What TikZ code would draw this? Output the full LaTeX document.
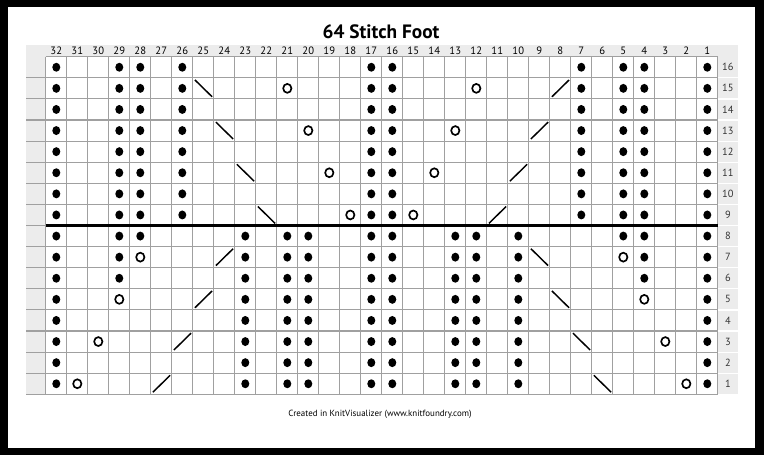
\documentclass[tikz,border=0pt]{standalone}
\usepackage{fontspec}
\setmainfont{PT Sans}
\definecolor{hdrgray}{HTML}{ECECEC}
\definecolor{gridgray}{HTML}{A0A0A0}
\tikzset{
  gridline/.style={draw=gridgray, line width=0.8pt},
  bullet/.style={fill=black},
  yarnover/.style={draw=black, line width=1.25pt},
  decline/.style={draw=black, line width=1.1pt},
  colnum/.style={font=\fontsize{8}{9}\selectfont, inner sep=0pt},
  rownum/.style={font=\fontsize{7.8}{9}\selectfont, inner sep=0pt, text=black!80},
}
\begin{document}
\begin{tikzpicture}[x=0.75pt,y=-0.75pt]
\useasboundingbox (0,0) rectangle (764,455);
\fill[black] (0,0) rectangle (764,455);
\fill[white] (8,7) rectangle (755,448);
% gray header and side columns
\fill[hdrgray] (26,45) rectangle (738,56.7);
\fill[hdrgray] (26,56.7) rectangle (45.8,394.3);
\fill[hdrgray] (717.8,56.7) rectangle (738,394.3);
% title and footer
\node[font=\bfseries\fontsize{14.5}{16}\selectfont, inner sep=0pt] (title) at (381,32) {64 Stitch Foot};
\node[font=\fontsize{6.7}{8}\selectfont, inner sep=0pt] (footer) at (380,414) {Created in KnitVisualizer (www.knitfoundry.com)};
\begin{scope}[shift={(45.8,56.7)}, x=15.75pt, y=-15.825pt]
  % white separators in right number column
  \foreach \j in {1,...,15} \draw[white, line width=0.9pt] (32,\j) -- (32.96,\j);
  % grid
  \foreach \i in {0,...,32} \draw[gridline] (\i,0) -- (\i,16);
  \draw[gridline] (0,0) -- (32,0);
  \foreach \j in {1,...,16} \draw[gridline] (-0.94,\j) -- (32,\j);
  % thick separator between rows 9 and 8
  \draw[black, line width=1.9pt] (0,8) -- (32,8);
  % column numbers
  \foreach \c in {1,...,32} \node[colnum] (col\c) at (32.5-\c,-0.28) {\c};
  % row numbers
  \foreach \r in {1,...,16} \node[rownum] (row\r) at (32.48,16.5-\r) {\r};
  % bullets, upper part (rows 9-16)
  \foreach \r in {9,...,16}
    \foreach \c in {32,29,28,26,17,16,7,5,4,1}
      \fill[bullet] (32.5-\c,16.5-\r) ellipse [x radius=3pt, y radius=3.35pt];
  % bullets, lower part (rows 1-8)
  \foreach \r in {1,...,8}
    \foreach \c in {32,23,21,20,17,16,13,12,10,1}
      \fill[bullet] (32.5-\c,16.5-\r) ellipse [x radius=3pt, y radius=3.35pt];
  \foreach \c/\r in {29/8,28/8,5/8,4/8,29/7,4/7,29/6,4/6}
    \fill[bullet] (32.5-\c,16.5-\r) ellipse [x radius=3pt, y radius=3.35pt];
  % yarn overs
  \foreach \c/\r in {21/15,12/15,20/13,13/13,19/11,14/11,18/9,15/9,28/7,5/7,29/5,4/5,30/3,3/3,31/1,2/1}
    \draw[yarnover] (32.5-\c,16.5-\r) ellipse [x radius=3.1pt, y radius=3.35pt];
  % right-leaning (backslash) decreases
  \foreach \c/\r in {25/15,24/13,23/11,22/9,9/7,8/5,7/3,6/1}
    \draw[decline] (32.1-\c,16.1-\r) -- (32.92-\c,16.9-\r);
  % left-leaning (slash) decreases
  \foreach \c/\r in {8/15,9/13,10/11,11/9,24/7,25/5,26/3,27/1}
    \draw[decline] (32.1-\c,16.9-\r) -- (32.92-\c,16.1-\r);
\end{scope}
\end{tikzpicture}
\end{document}
